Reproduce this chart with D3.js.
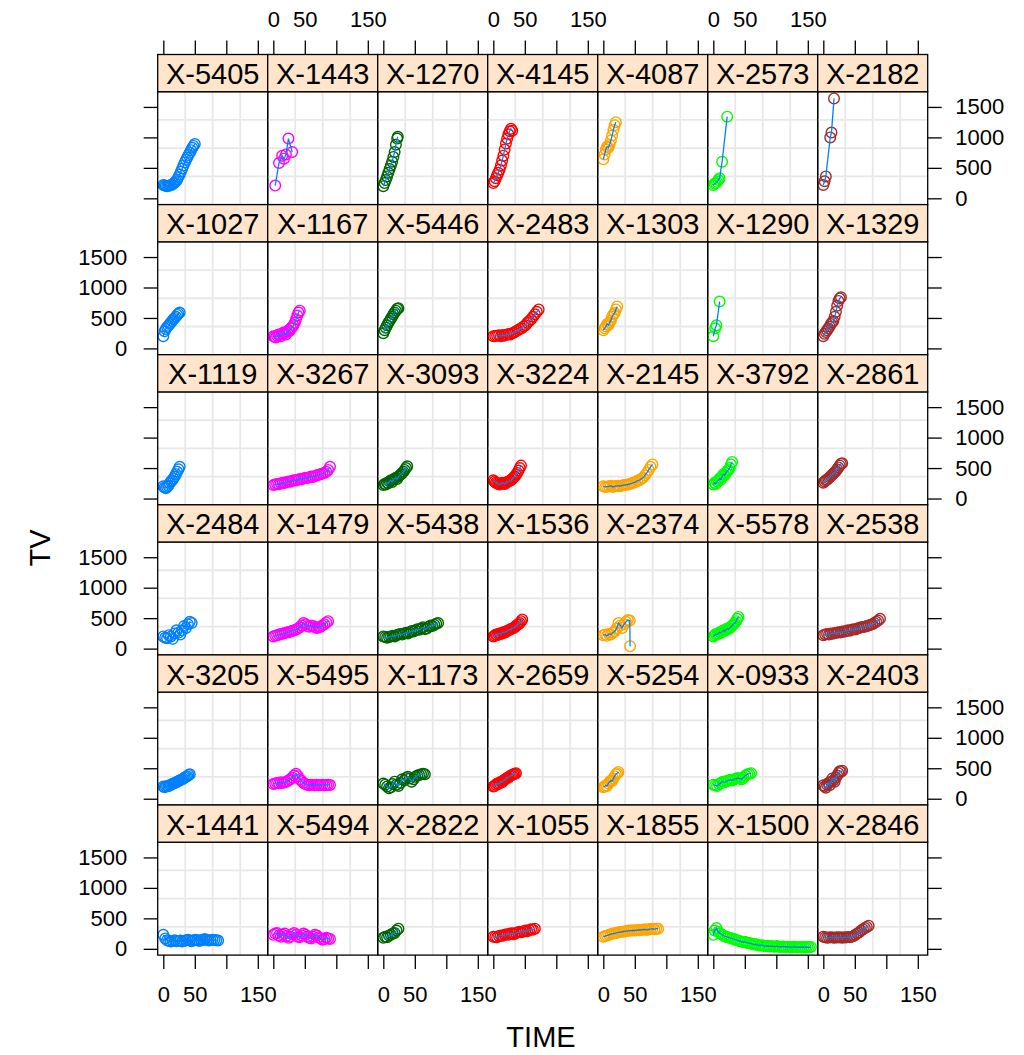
<!DOCTYPE html>
<html><head><meta charset="utf-8">
<script src="https://cdn.jsdelivr.net/npm/d3@7"></script>
<style>body{margin:0;background:#fff}svg{display:block;font-family:"Liberation Sans",Arial,sans-serif}</style>
</head><body><svg id="c" width="1024" height="1055"></svg>
<script>
const panelIds = [
 "X-5405","X-1443","X-1270","X-4145","X-4087","X-2573","X-2182",
 "X-1027","X-1167","X-5446","X-2483","X-1303","X-1290","X-1329",
 "X-1119","X-3267","X-3093","X-3224","X-2145","X-3792","X-2861",
 "X-2484","X-1479","X-5438","X-1536","X-2374","X-5578","X-2538",
 "X-3205","X-5495","X-1173","X-2659","X-5254","X-0933","X-2403",
 "X-1441","X-5494","X-2822","X-1055","X-1855","X-1500","X-2846"];
const columnColors = ["#0080ff","#ff00ff","#006400","#ff0000","#ffa500","#00ff00","#a52a2a"];
const lineColor = "#0080ff";
const xTicks = [0,50,100,150];
const xTickLabels = ["0","50","","150"];
const yTicks = [0,500,1000,1500];
const yTickLabels = ["0","500","1000","1500"];
const xDomain = [-8.9,165.7];
const yDomain = [-103,1750];

const panelTimes = [
 [0,2,4,6,8,10,12,14,16,18,20,22,24,26,28,30,32,34,36,38,40,42,44,46,48,50],
 [3,9,14,17,20,24,30],
 [0,2,4,6,8,10,12,14,16,18,20,22,23],
 [0,2,4,6,8,10,12,14,16,18,20,22,24,26,28,30],
 [0,2,4,6,8,10,12,14,16,18,20],
 [0,2,4,6,8,10,14,22],
 [0,2,4,11,13,17],

 [0,2,4,6,8,10,12,14,16,18,20,22,24,26],
 [0,2,4,6,8,10,12,14,16,18,20,22,24,26,28,30,32,34,36,38,40,42],
 [0,2,4,6,8,10,12,14,16,18,20,22,24],
 [0,3,6,9,12,15,18,21,24,27,30,33,36,39,42,45,48,51,54,57,60,63,66,69,72],
 [0,2,4,6,8,10,12,14,16,18,20,22],
 [0,3,5,10],
 [0,2,4,6,8,10,12,14,16,18,20,22,24,26,28],

 [0,2,4,6,8,10,12,14,16,18,20,22,24,26],
 [0,3,6,9,12,15,18,21,24,27,30,33,36,39,42,45,48,51,54,57,60,63,66,69,72,75,78,81,84,87,90],
 [0,2,4,6,8,10,12,14,16,18,20,22,24,26,28,30,32,34,36,38],
 [0,2,4,6,8,10,12,14,16,18,20,22,24,26,28,30,32,34,36,38,40,42,44],
 [0,3,6,9,12,15,18,21,24,27,30,33,36,39,42,45,48,51,54,57,60,63,66,69,72,75,78],
 [0,2,4,6,8,10,12,14,16,18,20,22,24,26,28,30],
 [0,2,4,6,8,10,12,14,16,18,20,22,24,26,28,30],

 [0,3,6,9,12,15,18,21,24,27,30,33,36,39,42,45],
 [0,3,6,9,12,15,18,21,24,27,30,33,36,39,42,45,48,51,54,57,60,63,66,69,72,75,78,81,84,87],
 [0,3,6,9,12,15,18,21,24,27,30,33,36,39,42,45,48,51,54,57,60,63,66,69,72,75,78,81,84,87],
 [0,2,4,6,8,10,12,14,16,18,20,22,24,26,28,30,32,34,36,38,40,42,44,46],
 [0,3,6,9,12,15,18,21,24,27,30,33,36,39,42,42.5],
 [0,2,4,6,8,10,12,14,16,18,20,22,24,26,28,30,32,34,36,38,40],
 [0,3,6,9,12,15,18,21,24,27,30,33,36,39,42,45,48,51,54,57,60,63,66,69,72,75,78,81,84,87,90],

 [0,2,4,6,8,10,12,14,16,18,20,22,24,26,28,30,32,34,36,38,40,42],
 [0,3,6,9,12,15,18,21,24,27,30,33,36,39,42,45,48,51,54,57,60,63,66,69,72,75,78,81,84,87,90],
 [0,3,6,9,12,15,18,21,24,27,30,33,36,39,42,45,48,51,54,57,60,63,66],
 [0,2,4,6,8,10,12,14,16,18,20,22,24,26,28,30,32,34,36],
 [0,2,4,6,8,10,12,14,16,18,20,22,24],
 [0,3,6,9,12,15,18,21,24,27,30,33,36,39,42,45,48,51,54,57,60],
 [0,2,4,6,8,10,12,14,16,18,20,22,24,26,28,30],

 [0,3,6,9,12,15,18,21,24,27,30,33,36,39,42,45,48,51,54,57,60,63,66,69,72,75,78,81,84,87],
 [0,3,6,9,12,15,18,21,24,27,30,33,36,39,42,45,48,51,54,57,60,63,66,69,72,75,78,81,84,87,90],
 [0,3,6,9,12,15,18,21,24],
 [0,3,6,9,12,15,18,21,24,27,30,33,36,39,42,45,48,51,54,57,60,63,66],
 [0,3,6,9,12,15,18,21,24,27,30,33,36,39,42,45,48,51,54,57,60,63,66,69,72,75,78,81,84,87],
 [0,2,5,8,11,14,17,20,23,26,29,32,35,38,41,44,47,50,53,56,59,62,65,68,71,74,77,80,83,86,89,92,95,98,101,104,107,110,113,116,119,122,125,128,131,134,137,140,143,146,149,152,155],
 [0,3,6,9,12,15,18,21,24,27,30,33,36,39,42,45,48,51,54,57,60,63,66,69,72]
];
const panelValues = [
 [220,210,205,200,205,210,215,225,240,255,280,310,350,390,440,490,540,590,630,670,710,750,790,830,860,890],
 [210,580,700,650,720,980,760],
 [200,250,300,360,420,480,540,600,680,760,880,980,1010],
 [250,280,330,380,420,470,540,620,700,800,900,980,1050,1100,1140,1110],
 [640,720,800,850,830,880,950,1030,1120,1200,1250],
 [220,240,250,270,300,330,600,1340],
 [220,280,360,1000,1080,1640],

 [200,280,320,350,370,400,420,450,480,500,520,550,570,590],
 [200,190,180,210,230,220,200,240,260,250,230,270,300,290,330,350,380,420,480,540,590,620],
 [250,300,340,380,420,450,490,520,560,590,620,650,660],
 [200,205,210,215,200,220,210,225,235,230,250,260,280,300,320,330,360,380,420,450,480,520,560,600,640],
 [300,330,360,400,380,420,460,520,560,580,640,690],
 [200,330,380,770],
 [200,240,270,300,330,360,400,430,450,520,600,700,780,820,840],

 [200,180,170,190,210,250,280,300,330,360,400,440,480,520],
 [220,230,240,235,250,260,255,270,280,275,290,300,295,310,320,315,330,340,335,350,360,355,370,380,390,400,410,420,440,470,520],
 [220,240,230,260,250,280,300,270,310,330,340,320,360,380,400,420,440,470,500,530],
 [300,280,260,250,240,230,245,260,250,240,260,270,280,290,300,320,340,360,390,420,460,500,540],
 [200,190,195,200,210,190,200,205,210,200,215,220,225,230,240,250,260,270,290,300,320,340,380,420,470,520,560],
 [230,260,240,280,300,330,310,360,400,380,420,450,470,500,560,600],
 [260,280,300,310,330,350,370,390,410,430,450,480,510,540,570,580],

 [200,180,170,220,200,160,250,300,260,230,300,370,340,400,440,420],
 [200,210,220,230,240,245,255,265,270,280,290,300,310,330,350,380,420,400,370,360,380,370,350,340,350,360,380,400,430,450],
 [200,190,180,190,200,210,200,220,230,240,230,250,260,250,270,290,280,300,320,310,330,350,320,330,360,380,370,390,410,420],
 [200,210,230,220,240,250,240,260,270,260,280,290,300,310,320,330,340,350,370,390,400,420,450,480],
 [220,230,210,240,230,260,280,330,420,380,340,400,440,470,460,40],
 [200,220,240,230,250,270,260,280,300,290,310,330,320,340,360,380,400,420,450,490,520],
 [220,230,240,230,250,245,255,260,270,265,280,275,290,300,295,310,320,315,330,340,350,355,360,370,380,390,400,420,440,460,490],

 [200,190,200,210,205,220,230,240,250,260,265,280,290,300,310,320,330,350,360,370,390,400],
 [240,250,260,255,270,260,270,280,300,320,350,380,410,370,320,290,260,240,230,220,230,225,220,230,220,225,230,220,225,230,225],
 [250,230,200,170,190,240,280,230,210,260,320,300,340,360,330,280,320,360,380,390,400,410,400],
 [200,210,230,250,240,260,280,270,300,310,330,340,350,370,380,390,400,410,420],
 [190,200,220,210,250,280,300,290,330,370,400,420,440],
 [230,220,210,240,260,280,270,290,300,310,300,320,330,340,330,320,350,380,400,410,420],
 [220,200,180,230,260,220,280,330,300,280,350,380,420,450,440,460],

 [230,170,140,130,120,130,140,125,130,135,120,130,140,150,135,125,140,150,145,130,140,150,160,145,135,140,150,145,140,135],
 [230,250,260,220,200,230,250,210,180,200,240,260,230,200,190,220,250,230,200,180,170,200,230,220,190,170,150,160,180,170,160],
 [180,200,190,220,230,250,260,300,330],
 [200,195,190,210,220,215,230,240,230,250,255,240,260,270,280,270,290,300,290,310,320,315,330],
 [200,210,220,230,240,250,255,260,270,275,280,285,290,295,300,300,305,300,310,305,310,315,320,310,320,325,330,320,330,330],
 [230,300,340,280,250,230,210,200,190,180,170,165,150,140,130,120,110,115,100,95,90,80,70,75,60,55,60,50,45,50,40,45,40,35,45,35,30,40,35,30,35,30,25,35,30,25,30,25,30,25,30,25,30],
 [200,190,180,185,190,185,180,190,185,190,180,190,185,195,190,200,210,230,250,270,300,320,340,360,380]
];

const nCol = 7, nRow = 6;
const left0 = 157.7, panelW = 110;
const top0 = 54.5, rowH = 150.1, stripH = 37.2;
const svg = d3.select("#c");
svg.append("rect").attr("width",1024).attr("height",1055).attr("fill","#fff");
const defs = svg.append("defs");
const tickFont = 22;

panelIds.forEach((id, i) => {
  const r = Math.floor(i / nCol), c = i % nCol;
  const L = left0 + c * panelW, T = top0 + r * rowH;
  const x = d3.scaleLinear().domain(xDomain).range([L, L + panelW]);
  const y = d3.scaleLinear().domain(yDomain).range([T + rowH, T + stripH]);
  const g = svg.append("g");
  const gx = d3.range(1,4).map(k => xDomain[0] + k*(xDomain[1]-xDomain[0])/4);
  const gy = d3.range(1,4).map(k => yDomain[0] + k*(yDomain[1]-yDomain[0])/4);
  g.selectAll(".gx").data(gx).join("line")
    .attr("x1", d=>x(d)).attr("x2", d=>x(d)).attr("y1", T+stripH).attr("y2", T+rowH)
    .attr("stroke","#e8e8e8").attr("stroke-width",1.8);
  g.selectAll(".gy").data(gy).join("line")
    .attr("y1", d=>y(d)).attr("y2", d=>y(d)).attr("x1", L).attr("x2", L+panelW)
    .attr("stroke","#e8e8e8").attr("stroke-width",1.8);
  defs.append("clipPath").attr("id","cp"+i).append("rect")
    .attr("x",L).attr("y",T+stripH).attr("width",panelW).attr("height",rowH-stripH);
  const data = panelTimes[i].map((t,k)=>[t, panelValues[i][k]]);
  const pg = g.append("g").attr("clip-path","url(#cp"+i+")");
  pg.selectAll("circle").data(data).join("circle")
    .attr("cx", d=>x(d[0])).attr("cy", d=>y(d[1])).attr("r",5.3)
    .attr("fill","none").attr("stroke",columnColors[c]).attr("stroke-width",1.4);
  pg.append("path").datum(data)
    .attr("d", d3.line().x(d=>x(d[0])).y(d=>y(d[1])))
    .attr("fill","none").attr("stroke",lineColor).attr("stroke-width",1.3);
  g.append("rect").attr("x",L).attr("y",T+stripH).attr("width",panelW).attr("height",rowH-stripH)
    .attr("fill","none").attr("stroke","#000").attr("stroke-width",1.3);
  g.append("rect").attr("x",L).attr("y",T).attr("width",panelW).attr("height",stripH)
    .attr("fill","#ffe5cc").attr("stroke","#000").attr("stroke-width",1.3);
  g.append("text").attr("x",L+panelW/2).attr("y",T+stripH/2+1).attr("text-anchor","middle")
    .attr("dominant-baseline","central").attr("font-size",29).attr("fill","#000").text(id);

  const fmtX = d => xTickLabels[xTicks.indexOf(d)];
  const fmtY = d => yTickLabels[yTicks.indexOf(d)];
  const none = () => "";
  if (r === 0) {
    const a = svg.append("g").attr("transform",`translate(0,${T})`)
      .call(d3.axisTop(x).tickValues(xTicks).tickSize(14).tickPadding(13.5).tickFormat(c % 2 === 1 ? fmtX : none));
    a.select(".domain").remove();
  }
  if (r === nRow-1) {
    const a = svg.append("g").attr("transform",`translate(0,${T+rowH})`)
      .call(d3.axisBottom(x).tickValues(xTicks).tickSize(14).tickPadding(17.5).tickFormat(c % 2 === 0 ? fmtX : none));
    a.select(".domain").remove();
  }
  if (c === 0) {
    const a = svg.append("g").attr("transform",`translate(${L},0)`)
      .call(d3.axisLeft(y).tickValues(yTicks).tickSize(14).tickPadding(16.5).tickFormat(r % 2 === 1 ? fmtY : none));
    a.select(".domain").remove();
  }
  if (c === nCol-1) {
    const a = svg.append("g").attr("transform",`translate(${L+panelW},0)`)
      .call(d3.axisRight(y).tickValues(yTicks).tickSize(14).tickPadding(13.5).tickFormat(r % 2 === 0 ? fmtY : none));
    a.select(".domain").remove();
  }
});
svg.selectAll(".tick line").attr("stroke","#000").attr("stroke-width",1.3);
svg.selectAll(".tick text").attr("font-size",tickFont).attr("fill","#000")
  .attr("font-family","Liberation Sans, Arial, sans-serif");

svg.append("text").attr("x",541).attr("y",1037).attr("text-anchor","middle")
  .attr("dominant-baseline","central").attr("font-size",29).text("TIME");
svg.append("text").attr("transform","translate(40,548) rotate(-90)").attr("text-anchor","middle")
  .attr("dominant-baseline","central").attr("font-size",29).text("TV");
</script></body></html>
